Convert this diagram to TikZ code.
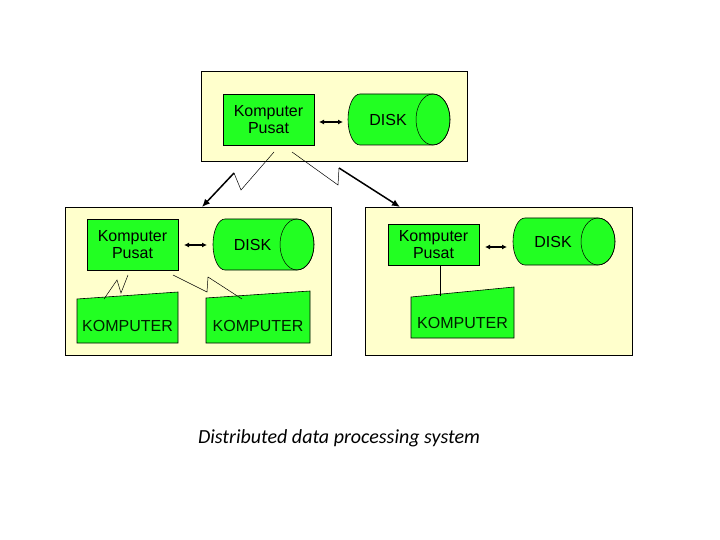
\documentclass[tikz,border=0pt]{standalone}
\usepackage{fontspec}
\setmainfont{Liberation Sans}
\newfontfamily\capfont{Carlito}
\usetikzlibrary{arrows.meta}
\definecolor{bgy}{HTML}{FFFFCC}
\definecolor{grn}{HTML}{22FF22}
\begin{document}
\begin{tikzpicture}[x=1pt,y=-1pt,
  box/.style={draw=black,fill=bgy,line width=0.8pt},
  kp/.style={draw=black,fill=grn,line width=0.6pt,align=center,inner sep=0pt,font=\fontsize{16}{17}\selectfont},
  lbl/.style={font=\fontsize{16}{17}\selectfont,inner sep=0pt},
  thin/.style={line width=0.5pt},
  dbl/.style={{Latex[length=5pt,width=5pt]}-{Latex[length=5pt,width=5pt]},line width=1.3pt},
  thk/.style={-{Latex[length=8pt,width=7pt]},line width=1.5pt}]
\useasboundingbox (0,0) rectangle (720,540);
\newcommand\mydisk[5]{% name, x1, y1, x2, y2
  \pgfmathsetmacro\cy{(#3+#5)/2}\pgfmathsetmacro\ry{(#5-#3)/2}
  \draw[fill=grn,line width=0.6pt] (#2+12,#3) -- (#4-17,#3) arc[start angle=-90,end angle=90,x radius=17,y radius=\ry] -- (#2+12,#5) arc[start angle=90,end angle=270,x radius=12,y radius=\ry] -- cycle;
  \draw[thin] (#4-17,\cy) ellipse[x radius=17,y radius=\ry];
  \node[lbl] (#1) at ({(#2+#4-34)/2+6},\cy) {DISK};}
\newcommand\mytrap[6]{% name, x1, ytl, x2, ytr, yb
  \draw[fill=grn,line width=0.6pt] (#2,#3) -- (#4,#5) -- (#4,#6) -- (#2,#6) -- cycle;
  \node[lbl,text=black!70!green!40!black] (#1) at ({(#2+#4)/2},{(#3+#6)/2+5}) {KOMPUTER};}

% top box
\draw[box] (201,71) rectangle (467,161);
\node[kp,minimum width=91pt,minimum height=51pt] (kp0) at (268.5,119.5) {Komputer\\Pusat};
\mydisk{d0}{348}{94}{450}{145}
\draw[dbl] (319,122) coordinate (a0) -- (343,122) coordinate (b0);

% left box
\draw[box] (65,207) rectangle (331,355);
\node[kp,minimum width=91pt,minimum height=51pt] (kp1) at (132.5,244.5) {Komputer\\Pusat};
\mydisk{d1}{213}{219}{314}{270}
\draw[dbl] (184,245) coordinate (a1) -- (207,245) coordinate (b1);
\mytrap{t1}{77}{299}{178}{292}{343}
\mytrap{t2}{206}{298}{310}{291}{343}

% right box
\draw[box] (365,207) rectangle (632,355);
\node[kp,minimum width=91pt,minimum height=41pt] (kp2) at (433.5,244.5) {Komputer\\Pusat};
\mydisk{d2}{513}{218}{615}{265}
\draw[dbl] (485,247) coordinate (a2) -- (507,247) coordinate (b2);
\mytrap{t3}{411}{297}{514}{287}{338}
\draw[thin] (kp2.south -| 440,0) coordinate (c3) -- (440,296) coordinate (e3);

% lightning links
\coordinate (p1) at (274,152); \coordinate (p2) at (292,152);
\draw[thin] (p1) -- (241,190) -- (234,173);
\draw[thk] (234,173) -- (202,207);
\draw[thin] (p2) -- (338,185) -- (339,168);
\draw[thk] (339,168) -- (400,207);
\draw[thin] (128,275) -- (121,293) -- (117,280) -- (104,299);
\draw[thin] (173,275) -- (207,292) -- (208,277) -- (242,299);

\node[font=\capfont\itshape\fontsize{20}{22}\selectfont] (cap) at (339,438) {Distributed data processing system};
\end{tikzpicture}
\end{document}
